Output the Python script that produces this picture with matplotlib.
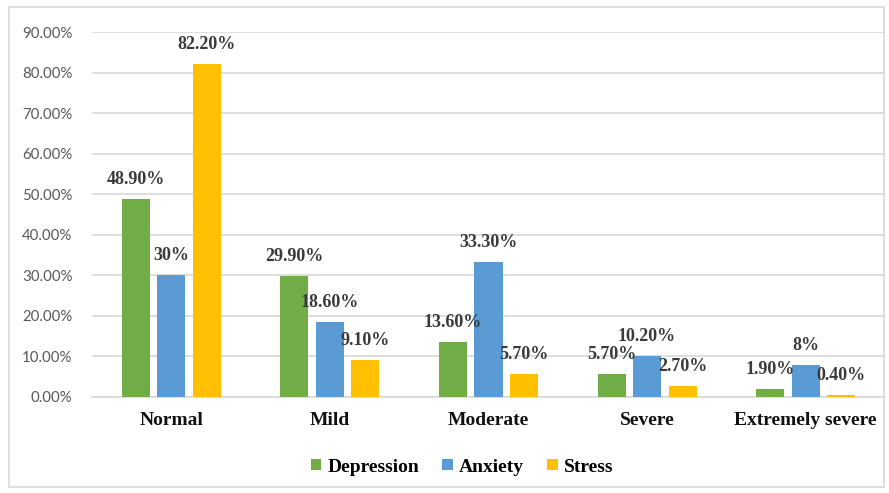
import matplotlib
matplotlib.use("Agg")
import matplotlib.pyplot as plt
from matplotlib.patches import Rectangle
import numpy as np

categories = ["Normal", "Mild", "Moderate", "Severe", "Extremely severe"]
depression = [48.9, 29.9, 13.6, 5.7, 1.9]
anxiety = [30.0, 18.6, 33.3, 10.2, 8.0]
stress = [82.2, 9.1, 5.7, 2.7, 0.4]
depression_labels = ["48.90%", "29.90%", "13.60%", "5.70%", "1.90%"]
anxiety_labels = ["30%", "18.60%", "33.30%", "10.20%", "8%"]
stress_labels = ["82.20%", "9.10%", "5.70%", "2.70%", "0.40%"]
y_ticks = [0, 10, 20, 30, 40, 50, 60, 70, 80, 90]

W, H = 889, 493
fig = plt.figure(figsize=(W / 100, H / 100), dpi=100)
fig.patch.set_facecolor("white")

# outer chart frame
fig.add_artist(Rectangle((9 / W, 1 - 487 / H), (884 - 9) / W, (487 - 7) / H,
                         transform=fig.transFigure, fill=False,
                         edgecolor="#d9d9d9", linewidth=1.2))

left, right, top, bottom = 92, 885, 32, 397
ax = fig.add_axes([left / W, 1 - bottom / H, (right - left) / W, (bottom - top) / H])

x = np.arange(len(categories))
bw = 0.177
off = 0.224
series = [
    (depression, depression_labels, "#70AD47", "Depression", -off),
    (anxiety, anxiety_labels, "#5B9BD5", "Anxiety", 0.0),
    (stress, stress_labels, "#FFC000", "Stress", off),
]
serif = "Liberation Serif"
for vals, labs, color, name, dx in series:
    bars = ax.bar(x + dx, vals, width=bw, color=color, label=name, zorder=3)
    for b, lab in zip(bars, labs):
        ax.annotate(lab, (b.get_x() + b.get_width() / 2, b.get_height()),
                    xytext=(0, 14), textcoords="offset points",
                    ha="center", va="center", fontsize=13, fontweight="bold",
                    family=serif, color="#3a3a3a", zorder=5)

ax.set_xlim(-0.5, len(categories) - 0.5)
ax.set_ylim(0, 90)
ax.set_yticks(y_ticks)
ax.set_yticklabels([f"{t:.2f}%" for t in y_ticks], family="Lato",
                   fontsize=10.8, color="#595959")
ax.yaxis.grid(True, color="#d9d9d9", linewidth=1.2, zorder=0)
ax.set_axisbelow(True)
for s in ["top", "right", "left"]:
    ax.spines[s].set_visible(False)
ax.spines["bottom"].set_color("#d9d9d9")
ax.spines["bottom"].set_linewidth(1.2)
ax.tick_params(axis="both", length=0)
ax.tick_params(axis="y", pad=14)
ax.set_xticks(x)
ax.set_xticklabels(categories, family=serif, fontweight="bold", fontsize=14,
                   color="#111111")
ax.tick_params(axis="x", pad=11)

leg = fig.legend(loc="center", bbox_to_anchor=(462 / W, 1 - 467 / H), ncol=3,
                 frameon=False, prop={"family": serif, "weight": "bold", "size": 14},
                 handlelength=0.55, handleheight=0.55, handletextpad=0.3,
                 columnspacing=1.2)

fig.savefig("out.png", dpi=100, facecolor="white")
